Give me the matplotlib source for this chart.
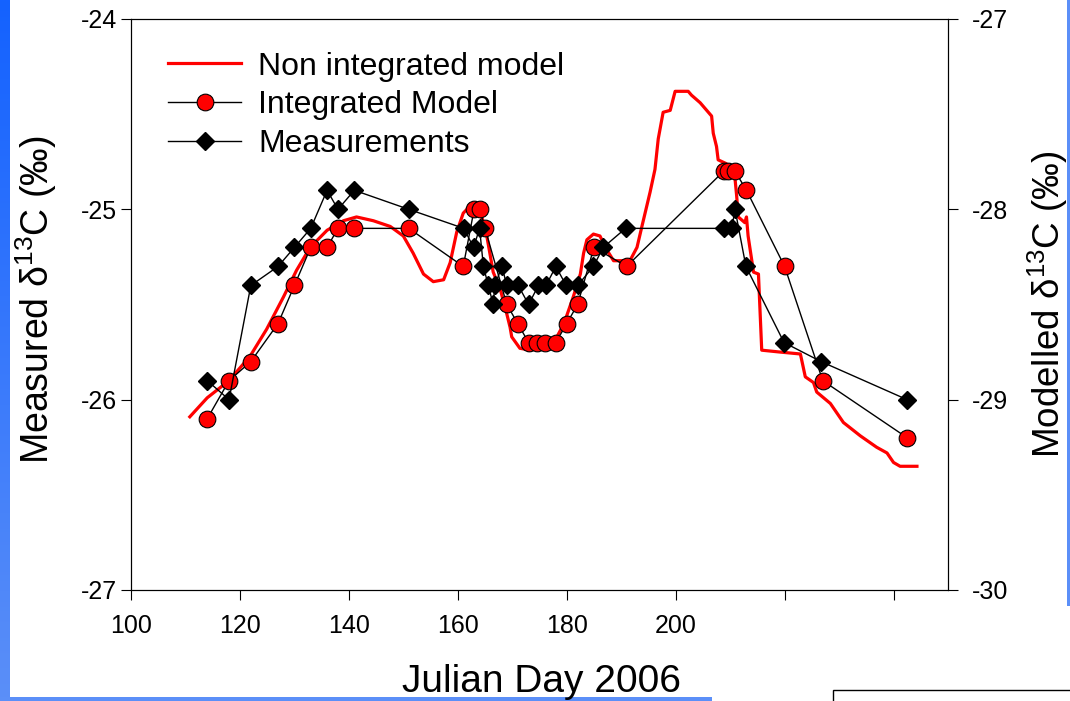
import numpy as np
import matplotlib
matplotlib.use('Agg')
import matplotlib.pyplot as plt
from matplotlib.lines import Line2D
from matplotlib.patches import Rectangle
from matplotlib.colors import LinearSegmentedColormap

plt.rcParams['font.family'] = ['Liberation Sans', 'DejaVu Sans']
plt.rcParams['mathtext.fontset'] = 'custom'
plt.rcParams['mathtext.rm'] = 'Liberation Sans'

# ---------------- data ----------------
# Non integrated model (modelled d13C, right axis)
nonint_day = [110.8, 114, 118, 121.9, 124.9, 128, 130.4, 132.9, 136, 139, 141.4, 144.5,
              147.6, 150, 151.8, 153.7, 155.5, 157.4, 158.6, 159.8, 161, 162, 163.5,
              164.5, 165.2, 166.5, 167.8, 169, 169.6, 169.9, 171.4, 173.3, 176, 178.2,
              179.5, 181.2, 182.5, 183.1, 183.7, 184.9, 186.1, 187.3, 188.6, 190.1,
              191.6, 192.9, 193.8, 195.3, 196.2, 196.8, 197.7, 199, 199.9, 202.3, 202.9,
              204.5, 206, 206.6, 206.9, 207.5, 207.8, 209.3, 210.9, 211.2, 211.5, 212.7,
              213.0, 213.3, 214.3, 215.2, 215.8, 219.2, 222.9, 223.8, 225.3, 225.9,
              228.4, 230.8, 233.9, 236.9, 238.8, 240, 241.2, 244.3]
nonint_val = [-29.09, -28.99, -28.90, -28.77, -28.63, -28.46, -28.32, -28.20, -28.11,
              -28.06, -28.04, -28.06, -28.09, -28.14, -28.23, -28.34, -28.38, -28.37,
              -28.28, -28.12, -28.02, -27.99, -27.99, -28.05, -28.12, -28.33, -28.42,
              -28.55, -28.62, -28.67, -28.73, -28.74, -28.72, -28.67, -28.60, -28.46,
              -28.34, -28.23, -28.16, -28.13, -28.14, -28.21, -28.27, -28.27, -28.27,
              -28.20, -28.09, -27.91, -27.79, -27.63, -27.49, -27.48, -27.38, -27.38,
              -27.40, -27.44, -27.49, -27.51, -27.60, -27.67, -27.74, -27.76, -27.84,
              -27.93, -28.04, -28.07, -28.04, -28.14, -28.33, -28.34, -28.74, -28.75,
              -28.76, -28.88, -28.91, -28.96, -29.02, -29.12, -29.19, -29.25, -29.28,
              -29.33, -29.35, -29.35]

# Integrated model (modelled d13C, right axis)
integ_day = [114, 118, 122, 127, 130, 133, 136, 138, 141, 151, 161, 163, 164, 165, 169,
             171, 173, 174.5, 176, 178, 180, 182, 185, 191, 208.8, 209.7, 210.9, 213,
             220, 227, 242.5]
integ_val = [-29.1, -28.9, -28.8, -28.6, -28.4, -28.2, -28.2, -28.1, -28.1, -28.1, -28.3,
             -28.0, -28.0, -28.1, -28.5, -28.6, -28.7, -28.7, -28.7, -28.7, -28.6, -28.5,
             -28.2, -28.3, -27.8, -27.8, -27.8, -27.9, -28.3, -28.9, -29.2]

# Measurements (measured d13C, left axis)
meas_day = [114, 118, 122, 127, 130, 133, 136, 138, 141, 151, 161.1, 162.9, 164.0, 164.7,
            165.6, 166.5, 166.8, 168.1, 169.0, 171.1, 173.0, 174.8, 176.2, 178.0, 179.9,
            182.0, 184.9, 186.7, 190.8, 208.8, 210.3, 210.9, 212.9, 219.9, 226.7, 242.5]
meas_val = [-25.9, -26.0, -25.4, -25.3, -25.2, -25.1, -24.9, -25.0, -24.9, -25.0, -25.1,
            -25.2, -25.1, -25.3, -25.4, -25.5, -25.4, -25.3, -25.4, -25.4, -25.5, -25.4,
            -25.4, -25.3, -25.4, -25.4, -25.3, -25.2, -25.1, -25.1, -25.1, -25.0, -25.3,
            -25.7, -25.8, -26.0]

x_ticks = [100, 120, 140, 160, 180, 200, 220, 240]
x_ticklabels = ['100', '120', '140', '160', '180', '200', '', '']
left_ticks = [-27, -26, -25, -24]
right_ticks = [-30, -29, -28, -27]

legend_labels = ['Non integrated model', 'Integrated Model', 'Measurements']

# ---------------- figure ----------------
W, H = 1070, 701
fig = plt.figure(figsize=(W / 100, H / 100), dpi=100)
fig.patch.set_facecolor('white')

ax = fig.add_axes([131 / W, 1 - 590 / H, (948 - 131) / W, (590 - 19) / H])
ax2 = ax.twinx()

# models on right axis
ax2.plot(nonint_day, nonint_val, color='#ff0000', lw=2.3, zorder=2)
ax2.plot(integ_day, integ_val, color='black', lw=1.0, marker='o', markersize=12,
         markerfacecolor='#ff0000', markeredgecolor='black', markeredgewidth=0.8, zorder=3)

# measurements on left axis
ax.plot(meas_day, meas_val, color='black', lw=1.0, marker='D', markersize=9.5,
        markerfacecolor='black', markeredgecolor='black', zorder=4)

ax.set_zorder(ax2.get_zorder() + 1)
ax.patch.set_visible(False)

ax.set_xlim(100, 250)
ax.set_ylim(-27, -24)
ax2.set_ylim(-30, -27)

ax.set_xticks(x_ticks)
ax.set_xticklabels(x_ticklabels)
ax.set_yticks(left_ticks)
ax.set_yticklabels([str(t) for t in left_ticks])
ax2.set_yticks(right_ticks)
ax2.set_yticklabels([str(t) for t in right_ticks])

ax.tick_params(axis='x', direction='out', length=7, width=0.8, labelsize=18, pad=10,
               top=False)
ax.tick_params(axis='y', direction='out', length=7, width=0.8, labelsize=18, pad=3)
ax2.tick_params(axis='y', direction='out', length=7, width=0.8, labelsize=18, pad=10)
for a in (ax, ax2):
    for s in a.spines.values():
        s.set_linewidth(0.8)

# legend
handles = [
    Line2D([], [], color='#ff0000', lw=2.3),
    Line2D([], [], color='black', lw=1.0, marker='o', markersize=12,
           markerfacecolor='#ff0000', markeredgecolor='black', markeredgewidth=0.8),
    Line2D([], [], color='black', lw=1.0, marker='D', markersize=9.5,
           markerfacecolor='black', markeredgecolor='black'),
]
ax.legend(handles, legend_labels, loc='upper left', bbox_to_anchor=(0.045, 0.943),
          frameon=False, fontsize=23, handlelength=2.3, handletextpad=0.53,
          labelspacing=0.27, borderpad=0, borderaxespad=0)

# axis labels
fig.text(36 / W, 1 - 300 / H, r'Measured δ$^{\mathregular{13}}$C (‰)', rotation=90,
         ha='center', va='center', fontsize=27)
fig.text(1048 / W, 1 - 304 / H, r'Modelled δ$^{\mathregular{13}}$C (‰)', rotation=90,
         ha='center', va='center', fontsize=26.5)
fig.text(541 / W, 1 - 692 / H, 'Julian Day 2006', ha='center', va='baseline', fontsize=28)

# slide decorations
bar_ax = fig.add_axes([0, 0, 10 / W, 1])
cmap = LinearSegmentedColormap.from_list('bar', ['#1462ff', '#5b8ff8'])
bar_ax.imshow(np.linspace(0, 1, 256).reshape(-1, 1), aspect='auto', cmap=cmap)
bar_ax.set_axis_off()

fig.add_artist(Rectangle((0, 0), 712 / W, 4 / H, transform=fig.transFigure,
                         facecolor='#5b8ff8', edgecolor='none'))
fig.add_artist(Rectangle((1067 / W, 1 - 606 / H), 3 / W, 606 / H, transform=fig.transFigure,
                         facecolor='#5b8ff8', edgecolor='none'))
fig.add_artist(Rectangle((833 / W, -0.05), 0.5, (701 - 690) / H + 0.05,
                         transform=fig.transFigure, facecolor='white', edgecolor='black',
                         lw=1.0))

fig.savefig('out.png', dpi=100)
